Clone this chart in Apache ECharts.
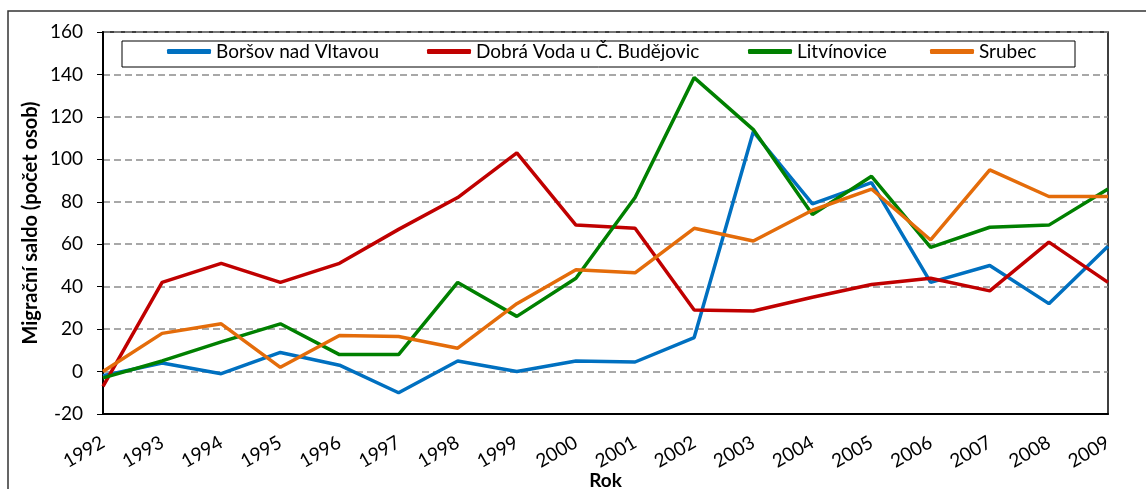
<!DOCTYPE html>
<html>
<head>
<meta charset="utf-8">
<script src="https://cdn.jsdelivr.net/npm/echarts@6/dist/echarts.min.js"></script>
<style>
  html, body { margin: 0; padding: 0; background: #fff; }
  #chart { width: 1146px; height: 489px; }
</style>
</head>
<body>
<div id="chart"></div>
<script>
var years = ['1992', '1993', '1994', '1995', '1996', '1997', '1998', '1999', '2000',
  '2001', '2002', '2003', '2004', '2005', '2006', '2007', '2008', '2009'];
var seriesNames = ['Boršov nad Vltavou', 'Dobrá Voda u Č. Budějovic', 'Litvínovice', 'Srubec'];
var borsov = [-2, 4, -1, 9, 3, -10, 5, 0, 5, 4.5, 16, 113, 79, 89, 42, 50, 32, 59];
var dobraVoda = [-7, 42, 51, 42, 51, 67, 82, 103, 69, 67.5, 29, 28.5, 35, 41, 44, 38, 61, 42];
var litvinovice = [-3, 5, 14, 22.5, 8, 8, 42, 26, 44, 82, 138.5, 114, 74, 92, 58.5, 68, 69, 86];
var srubec = [0, 18, 22.5, 2, 17, 16.5, 11, 32, 48, 46.5, 67.5, 61.5, 76, 86, 62, 95, 82.5, 82.5];
var colors = ['#0070C0', '#C00000', '#008000', '#E46C0A'];

var chart = echarts.init(document.getElementById('chart'));
var font = 'Lato, "Open Sans", sans-serif';

// one legend per entry so each item sits where it is in the original
var legendLeft = [167, 427, 748, 930];
var legends = seriesNames.map(function (name, i) {
  return {
    data: [name],
    left: legendLeft[i],
    top: 42,
    padding: 0,
    icon: 'roundRect',
    itemWidth: 44,
    itemHeight: 5,
    itemGap: 6,
    textStyle: { fontFamily: font, fontSize: 19, color: '#000' }
  };
});

var option = {
  animation: false,
  color: colors,
  legend: legends,
  graphic: [
    {
      type: 'rect',
      shape: { x: 8, y: 11, width: 1300, height: 700 },
      style: { fill: 'none', stroke: '#333', lineWidth: 1.5 },
      silent: true
    },
    {
      type: 'rect',
      shape: { x: 122, y: 41, width: 953, height: 26 },
      style: { fill: '#fff', stroke: '#000', lineWidth: 1 },
      z: 2,
      silent: true
    }
  ],
  grid: {
    left: 103, top: 32, right: 38, bottom: 75,
    outerBoundsMode: 'none',
    show: true, borderColor: '#000', borderWidth: 1.5
  },
  xAxis: {
    type: 'category',
    data: years,
    boundaryGap: false,
    name: 'Rok',
    nameLocation: 'middle',
    nameGap: 57,
    nameMoveOverlap: false,
    nameTextStyle: { fontFamily: font, fontSize: 19, fontWeight: 'bold', color: '#000' },
    axisLine: { onZero: false, lineStyle: { color: '#000', width: 2 } },
    axisTick: { show: false },
    axisLabel: {
      rotate: 30,
      margin: 27,
      fontFamily: font,
      fontSize: 19,
      color: '#000'
    },
    splitLine: { show: false }
  },
  yAxis: {
    type: 'value',
    min: -20,
    max: 160,
    interval: 20,
    name: 'Migrační saldo (počet osob)',
    nameLocation: 'middle',
    nameGap: 62,
    nameMoveOverlap: false,
    nameTextStyle: { fontFamily: font, fontSize: 20, fontWeight: 'bold', color: '#000' },
    axisLine: { show: true, lineStyle: { color: '#000', width: 2 } },
    axisTick: { show: true, length: 6, lineStyle: { color: '#000' } },
    axisLabel: { margin: 20, fontFamily: font, fontSize: 19, color: '#000' },
    splitLine: { lineStyle: { color: '#8c8c8c', width: 1.5, type: [7, 4] } }
  },
  series: [
    { name: seriesNames[0], type: 'line', data: borsov },
    { name: seriesNames[1], type: 'line', data: dobraVoda },
    { name: seriesNames[2], type: 'line', data: litvinovice },
    { name: seriesNames[3], type: 'line', data: srubec }
  ].map(function (s) {
    s.showSymbol = false;
    s.symbol = 'none';
    s.lineStyle = { width: 3.5 };
    return s;
  })
};

chart.setOption(option);
</script>
</body>
</html>
